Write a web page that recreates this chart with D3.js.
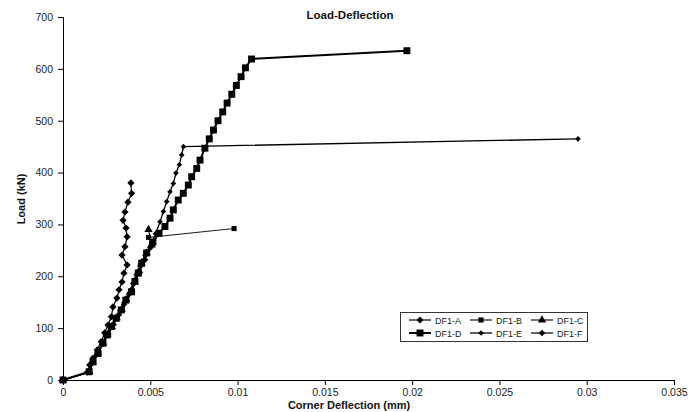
<!DOCTYPE html>
<html><head><meta charset="utf-8">
<script src="https://cdn.jsdelivr.net/npm/d3@7"></script>
<style>body{margin:0;background:#fff}svg{display:block}text{font-family:"Liberation Sans",Arial,sans-serif}</style>
</head><body><svg id="c" width="688" height="412"></svg>
<script>
const seriesNames = ["DF1-A","DF1-B","DF1-C","DF1-D","DF1-E","DF1-F"];
const xTicks = [0,0.005,0.01,0.015,0.02,0.025,0.03,0.035];
const yTicks = [0,100,200,300,400,500,600,700];
const dfA = [[0,0],[0.0014,15],[0.00153,29],[0.00172,42],[0.00196,58],[0.00219,74],[0.00239,91],[0.00258,106],[0.00277,122],[0.00286,141],[0.00309,158],[0.00321,174],[0.00338,189],[0.00349,206],[0.00367,222],[0.00338,241],[0.00355,257],[0.00367,276],[0.00361,293],[0.00344,308],[0.00355,324],[0.00372,343],[0.00393,360],[0.00389,380]];
const dfB = [[0,0],[0.0015,15],[0.00175,36],[0.00205,53],[0.0023,72],[0.00255,88],[0.0028,104],[0.0031,121],[0.00338,137],[0.00365,156],[0.0039,172],[0.0041,191],[0.0043,208],[0.00452,227],[0.0048,246],[0.00508,262],[0.0049,275],[0.0098,292]];
const dfC = [[0,0],[0.0015,16],[0.0017,35],[0.002,52],[0.0023,71],[0.00255,87],[0.0028,103],[0.00308,120],[0.00336,136],[0.00362,155],[0.0039,171],[0.0041,190],[0.0043,207],[0.0045,226],[0.0048,245],[0.00508,260],[0.0049,290]];
const dfD = [[0,0],[0.0015,16],[0.00172,35],[0.002,51],[0.00229,71],[0.00254,87],[0.00277,103],[0.00305,119],[0.00334,135],[0.0036,154],[0.00393,170],[0.00412,190],[0.00431,206],[0.0045,225],[0.00479,245],[0.00515,266],[0.0055,283],[0.00584,296],[0.00613,312],[0.00632,328],[0.0066,347],[0.00689,360],[0.00718,376],[0.00737,392],[0.00766,408],[0.00785,424],[0.00813,447],[0.00838,465],[0.00862,482],[0.00888,500],[0.00915,517],[0.0094,534],[0.00967,551],[0.00993,568],[0.0102,585],[0.01045,602],[0.0108,619],[0.0197,635]];
const dfE = [[0,0],[0.0015,15],[0.0017,33],[0.00195,50],[0.0022,68],[0.00245,85],[0.0027,101],[0.00297,118],[0.00325,134],[0.0035,150],[0.0038,168],[0.004,186],[0.0042,203],[0.0044,220],[0.0047,240],[0.005,258],[0.0053,282],[0.00556,305],[0.00575,325],[0.00594,344],[0.00613,363],[0.00632,379],[0.00647,399],[0.00666,415],[0.0068,434],[0.0069,450],[0.0295,465]];
const dfF = [[0,0],[0.0015,15],[0.0017,34],[0.002,52],[0.0023,70],[0.0026,88],[0.0029,107],[0.0032,126],[0.0035,146],[0.0038,166],[0.0041,187],[0.0044,208],[0.0047,232],[0.005,255]];

// square-ish diamond like spreadsheet markers (size = area)
const wideDiamond = {draw(ctx, size){const r=Math.sqrt(size/2); ctx.moveTo(0,-r); ctx.lineTo(r,0); ctx.lineTo(0,r); ctx.lineTo(-r,0); ctx.closePath();}};
const styles = {
 "DF1-A":{sym:wideDiamond,size:26,w:1.2,stroke:"#000"},
 "DF1-B":{sym:d3.symbolSquare,size:26,w:1.1,stroke:"#222"},
 "DF1-C":{sym:d3.symbolTriangle,size:30,w:1.1,stroke:"#000"},
 "DF1-D":{sym:d3.symbolSquare,size:48,w:2,stroke:"#000"},
 "DF1-E":{sym:wideDiamond,size:16,w:1.3,stroke:"#000"},
 "DF1-F":{sym:wideDiamond,size:22,w:1.2,stroke:"#000"}
};
const data = {"DF1-A":dfA,"DF1-B":dfB,"DF1-C":dfC,"DF1-D":dfD,"DF1-E":dfE,"DF1-F":dfF};

const svg = d3.select("#c");
const x = d3.scaleLinear().domain([0,0.035]).range([63,674]);
const y = d3.scaleLinear().domain([0,700]).range([380,17]);

const xa = svg.append("g").attr("transform","translate(0,380)")
 .call(d3.axisBottom(x).tickValues(xTicks).tickFormat(d=>d3.format("")(+d.toFixed(3))).tickSizeOuter(0).tickSize(5).tickPadding(4));
const ya = svg.append("g").attr("transform","translate(63,0)")
 .call(d3.axisLeft(y).tickValues(yTicks).tickSizeOuter(0).tickSize(5).tickPadding(5));
[xa,ya].forEach(a=>{a.selectAll("path,line").attr("stroke","#000").attr("stroke-width",1);
 a.selectAll("text").attr("font-size","10.5px").attr("fill","#222").attr("font-family","'Liberation Sans',Arial,sans-serif");});

svg.append("text").attr("x",350).attr("y",19).attr("text-anchor","middle").attr("font-weight","bold").attr("font-size","11.5px").attr("fill","#111").text("Load-Deflection");
svg.append("text").attr("x",349).attr("y",409).attr("text-anchor","middle").attr("font-weight","bold").attr("font-size","11px").attr("fill","#111").text("Corner Deflection (mm)");
svg.append("text").attr("transform","translate(25,199) rotate(-90)").attr("text-anchor","middle").attr("font-weight","bold").attr("font-size","11px").attr("fill","#111").text("Load (kN)");

const line = d3.line().x(d=>x(d[0])).y(d=>y(d[1]));
const order = ["DF1-F","DF1-C","DF1-B","DF1-E","DF1-A","DF1-D"];
order.forEach(n=>{
 const s = styles[n];
 const g = svg.append("g");
 g.append("path").datum(data[n]).attr("d",line).attr("fill","none").attr("stroke",s.stroke).attr("stroke-width",s.w);
 g.selectAll("path.m").data(data[n]).enter().append("path").attr("class","m")
  .attr("transform",d=>`translate(${x(d[0])},${y(d[1])})`)
  .attr("d",d3.symbol().type(s.sym).size(s.size)).attr("fill","#000");
});

// legend
const lg = svg.append("g");
lg.append("rect").attr("x",400.5).attr("y",312.5).attr("width",187).attr("height",29).attr("fill","#fff").attr("stroke","#333").attr("stroke-width",1);
seriesNames.forEach((n,i)=>{
 const col = i%3, row = Math.floor(i/3);
 const lx = 409 + col*61, ly = 320 + row*13;
 const s = styles[n];
 lg.append("line").attr("x1",lx).attr("x2",lx+22).attr("y1",ly).attr("y2",ly).attr("stroke","#000").attr("stroke-width",s.w);
 lg.append("path").attr("transform",`translate(${lx+11},${ly})`).attr("d",d3.symbol().type(s.sym).size(s.size)).attr("fill","#000");
 lg.append("text").attr("x",lx+26).attr("y",ly+3.5).attr("font-size","9px").attr("fill","#222").text(n);
});
</script></body></html>
